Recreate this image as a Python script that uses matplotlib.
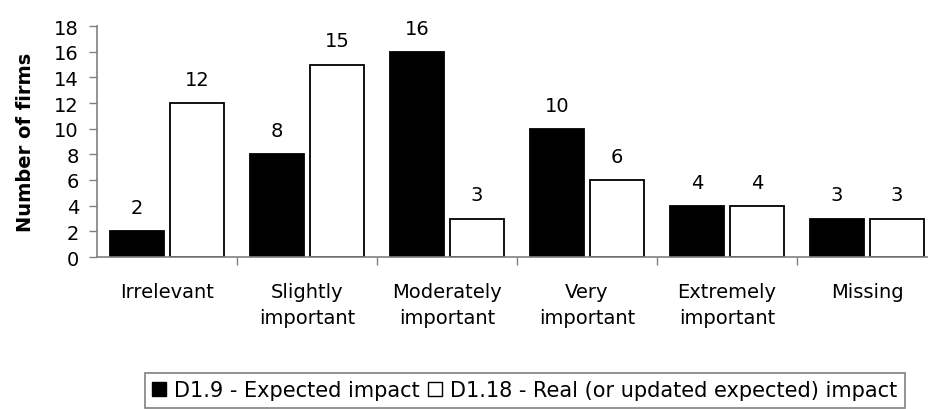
import matplotlib
matplotlib.use("Agg")
import matplotlib.pyplot as plt
import numpy as np
from matplotlib.patches import Patch

plt.rcParams['font.family'] = ['DejaVu Sans']

categories = ["Irrelevant", "Slightly\nimportant", "Moderately\nimportant",
              "Very\nimportant", "Extremely\nimportant", "Missing"]
expected = [2, 8, 16, 10, 4, 3]
real = [12, 15, 3, 6, 4, 3]
series_labels = ["D1.9 - Expected impact",
                 "D1.18 - Real (or updated expected) impact"]
yticks = list(range(0, 19, 2))

FS = 14
W, H = 929, 410
fig = plt.figure(figsize=(W / 100, H / 100), dpi=100)
ax = fig.add_axes([97 / W, 1 - 258 / H, 840 / W, 231 / H])

x = np.arange(len(categories))
bw = 0.386
off = 0.214
b1 = ax.bar(x - off, expected, bw, color="black", edgecolor="black", linewidth=1.3)
b2 = ax.bar(x + off, real, bw, color="white", edgecolor="black", linewidth=1.3)

for bars, vals in ((b1, expected), (b2, real)):
    for rect, v in zip(bars, vals):
        ax.annotate(str(v), (rect.get_x() + rect.get_width() / 2, v),
                    xytext=(0, 17), textcoords="offset points",
                    ha="center", va="center", fontsize=FS)

ax.set_xlim(-0.5, len(categories) - 0.5)
ax.set_ylim(0, 18)
ax.set_yticks(yticks)
ax.set_yticklabels([str(t) for t in yticks], fontsize=FS)

ax.set_xticks(x)
ax.set_xticklabels(categories, fontsize=FS, linespacing=1.45)
ax.set_xticks(np.arange(0.5, len(categories) - 0.5, 1), minor=True)
ax.tick_params(axis="x", which="major", length=0, pad=18)
ax.tick_params(axis="x", which="minor", length=6, width=1, color="#808080", direction="out")
ax.tick_params(axis="y", length=6, width=1, color="#808080", pad=7)

for s in ("top", "right"):
    ax.spines[s].set_visible(False)
for s in ("left", "bottom"):
    ax.spines[s].set_color("#808080")
    ax.spines[s].set_linewidth(1.2)

ax.set_ylabel("Number of firms", fontsize=FS, fontweight="bold", labelpad=14)

handles = [Patch(facecolor="black", edgecolor="black"),
           Patch(facecolor="white", edgecolor="black")]
leg = fig.legend(handles, series_labels, ncol=2, loc="upper left",
                 bbox_to_anchor=(145 / W, 1 - 374 / H), bbox_transform=fig.transFigure,
                 fontsize=15, frameon=True, fancybox=False, edgecolor="#606060",
                 handlelength=0.65, handleheight=0.65, handletextpad=0.4,
                 columnspacing=0.4, borderpad=0.35, borderaxespad=0)
leg.get_frame().set_linewidth(1.2)

fig.savefig("out.png", dpi=100)
